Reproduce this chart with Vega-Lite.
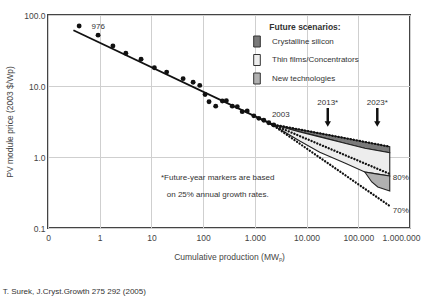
{
  "$schema": "https://vega.github.io/schema/vega-lite/v6.json",
  "width": 362,
  "height": 213,
  "autosize": "none",
  "padding": {"left": 48, "top": 15, "right": 11, "bottom": 68},
  "background": "white",
  "title": {
    "text": "T. Surek, J.Cryst.Growth 275 292 (2005)",
    "orient": "bottom",
    "anchor": "start",
    "offset": 27,
    "dx": -3,
    "fontSize": 8,
    "fontWeight": "normal",
    "color": "#333",
    "font": "Liberation Sans"
  },
  "config": {
    "font": "Liberation Sans",
    "view": {"stroke": "#444", "strokeWidth": 2},
    "axis": {
      "domain": false,
      "ticks": false,
      "gridColor": "#cfcfcf",
      "gridWidth": 1,
      "labelFont": "Liberation Sans",
      "labelFontSize": 8.5,
      "labelColor": "#444",
      "titleFont": "Liberation Sans",
      "titleFontSize": 8.5,
      "titleFontWeight": "normal",
      "titleColor": "#444"
    },
    "legend": {
      "labelFont": "Liberation Sans",
      "titleFont": "Liberation Sans"
    }
  },
  "datasets": {
    "pts": [
      {"x": 0.40, "y": 70}, {"x": 0.93, "y": 52}, {"x": 1.8, "y": 36.6}, {"x": 3.2, "y": 28.9},
      {"x": 6.3, "y": 23.8}, {"x": 11.4, "y": 18.1}, {"x": 19.7, "y": 15.7}, {"x": 41, "y": 12.7},
      {"x": 64, "y": 11.3}, {"x": 86, "y": 10.2}, {"x": 109, "y": 7.6}, {"x": 130, "y": 6.0},
      {"x": 175, "y": 5.2}, {"x": 235, "y": 6.15}, {"x": 281, "y": 6.2}, {"x": 366, "y": 5.2},
      {"x": 457, "y": 5.1}, {"x": 570, "y": 4.35}, {"x": 711, "y": 4.45}, {"x": 955, "y": 3.8},
      {"x": 1194, "y": 3.5}, {"x": 1490, "y": 3.3}, {"x": 1860, "y": 3.04}, {"x": 2317, "y": 2.83}
    ],
    "areas": [
      {"scenario": "Crystalline silicon", "x": 2100, "lo": 2.9, "hi": 2.9},
      {"scenario": "Crystalline silicon", "x": 7390, "lo": 2.26, "hi": 2.43},
      {"scenario": "Crystalline silicon", "x": 18000, "lo": 1.92, "hi": 2.15},
      {"scenario": "Crystalline silicon", "x": 54800, "lo": 1.56, "hi": 1.85},
      {"scenario": "Crystalline silicon", "x": 133600, "lo": 1.33, "hi": 1.63},
      {"scenario": "Crystalline silicon", "x": 406000, "lo": 1.15, "hi": 1.40},
      {"scenario": "Thin films/Concentrators", "x": 2100, "lo": 2.9, "hi": 2.9},
      {"scenario": "Thin films/Concentrators", "x": 7390, "lo": 1.68, "hi": 2.26},
      {"scenario": "Thin films/Concentrators", "x": 18000, "lo": 1.17, "hi": 1.92},
      {"scenario": "Thin films/Concentrators", "x": 54800, "lo": 0.82, "hi": 1.56},
      {"scenario": "Thin films/Concentrators", "x": 133600, "lo": 0.615, "hi": 1.33},
      {"scenario": "Thin films/Concentrators", "x": 406000, "lo": 0.54, "hi": 1.15},
      {"scenario": "New technologies", "x": 133600, "lo": 0.615, "hi": 0.615},
      {"scenario": "New technologies", "x": 182400, "lo": 0.445, "hi": 0.593},
      {"scenario": "New technologies", "x": 238500, "lo": 0.378, "hi": 0.574},
      {"scenario": "New technologies", "x": 406000, "lo": 0.332, "hi": 0.54}
    ],
    "proj": [
      {"ratio": "90%", "x": 2100, "y": 2.9}, {"ratio": "90%", "x": 406000, "y": 1.40},
      {"ratio": "80%", "x": 2100, "y": 2.9}, {"ratio": "80%", "x": 406000, "y": 0.577},
      {"ratio": "70%", "x": 2100, "y": 2.9}, {"ratio": "70%", "x": 406000, "y": 0.204}
    ],
    "fit": [{"x": 0.31, "y": 61}, {"x": 2100, "y": 2.9}],
    "arrows": [
      {"x": 25700, "y": 4.9, "y2": 3.11, "tip": 2.92},
      {"x": 233000, "y": 4.9, "y2": 3.11, "tip": 2.92}
    ],
    "ctext": [
      {"x": 0.935, "y": 67.8, "label": "976"},
      {"x": 3170, "y": 3.9, "label": "2003"},
      {"x": 25700, "y": 5.77, "label": "2013*"},
      {"x": 233000, "y": 5.77, "label": "2023*"},
      {"x": 191, "y": 0.506, "label": "*Future-year markers are based"},
      {"x": 191, "y": 0.29, "label": "on 25% annual growth rates."}
    ],
    "ltext": [
      {"x": 465000, "y": 0.514, "label": "80%"},
      {"x": 465000, "y": 0.173, "label": "70%"}
    ]
  },
  "layer": [
    {
      "data": {"name": "areas"},
      "mark": {"type": "area", "stroke": "#222", "strokeWidth": 1.1, "opacity": 1, "orient": "vertical"},
      "encoding": {
        "x": {
          "field": "x", "type": "quantitative",
          "scale": {"type": "log", "domain": [0.1, 1000000]},
          "axis": {
            "title": "Cumulative production (MWₚ)",
            "values": [0.1, 1, 10, 100, 1000, 10000, 100000, 1000000],
            "labelExpr": "datum.value < 0.5 ? '0' : datum.value < 500 ? format(datum.value, 'd') : datum.value < 5000 ? '1.000' : datum.value < 50000 ? '10.000' : datum.value < 500000 ? '100.000' : '1.000.000'",
            "labelOffset": {"condition": {"test": "datum.value > 500000", "value": -9}, "value": 0},
            "labelPadding": 5,
            "titlePadding": 11,
            "labelFlush": false,
            "labelOverlap": false
          }
        },
        "y": {
          "field": "lo", "type": "quantitative", "stack": null,
          "scale": {"type": "log", "domain": [0.1, 100]},
          "axis": {
            "title": "PV module price (2003 $/Wp)",
            "values": [0.1, 1, 10, 100],
            "format": ".1f",
            "labelPadding": 3,
            "titlePadding": 9,
            "labelFlush": false,
            "labelOverlap": false
          }
        },
        "y2": {"field": "hi"},
        "fill": {
          "field": "scenario", "type": "nominal",
          "scale": {
            "domain": ["Crystalline silicon", "Thin films/Concentrators", "New technologies"],
            "range": ["#7a7a7a", "#ededed", "#b0b0b0"]
          },
          "legend": {
            "title": "Future scenarios:",
            "orient": "none",
            "legendX": 203,
            "legendY": 8,
            "padding": 0,
            "titleAnchor": "middle",
            "titleFontSize": 8.5,
            "titleFontWeight": "bold",
            "titleColor": "#333",
            "titlePadding": 4,
            "labelFontSize": 8,
            "labelColor": "#333",
            "labelOffset": 9,
            "rowPadding": 2.5,
            "symbolType": "M-0.6,-1H0.6V1H-0.6Z",
            "symbolSize": 121,
            "symbolStrokeColor": "#333",
            "symbolStrokeWidth": 1
          }
        }
      }
    },
    {
      "data": {"name": "proj"},
      "mark": {"type": "line", "stroke": "#111", "strokeWidth": 2.3, "strokeDash": [0.1, 3], "strokeCap": "round"},
      "encoding": {
        "x": {"field": "x", "type": "quantitative", "scale": {"type": "log", "domain": [0.1, 1000000]}},
        "y": {"field": "y", "type": "quantitative", "scale": {"type": "log", "domain": [0.1, 100]}},
        "detail": {"field": "ratio", "type": "nominal"}
      }
    },
    {
      "data": {"name": "fit"},
      "mark": {"type": "line", "stroke": "#111", "strokeWidth": 1.8},
      "encoding": {
        "x": {"field": "x", "type": "quantitative", "scale": {"type": "log", "domain": [0.1, 1000000]}},
        "y": {"field": "y", "type": "quantitative", "scale": {"type": "log", "domain": [0.1, 100]}}
      }
    },
    {
      "data": {"name": "pts"},
      "mark": {"type": "circle", "color": "#111", "size": 24, "opacity": 1},
      "encoding": {
        "x": {"field": "x", "type": "quantitative", "scale": {"type": "log", "domain": [0.1, 1000000]}},
        "y": {"field": "y", "type": "quantitative", "scale": {"type": "log", "domain": [0.1, 100]}}
      }
    },
    {
      "data": {"name": "arrows"},
      "mark": {"type": "rule", "stroke": "#111", "strokeWidth": 2.5},
      "encoding": {
        "x": {"field": "x", "type": "quantitative", "scale": {"type": "log", "domain": [0.1, 1000000]}},
        "y": {"field": "y", "type": "quantitative", "scale": {"type": "log", "domain": [0.1, 100]}},
        "y2": {"field": "y2"}
      }
    },
    {
      "data": {"name": "arrows"},
      "mark": {"type": "point", "shape": "triangle-down", "filled": true, "color": "#111", "size": 40, "opacity": 1},
      "encoding": {
        "x": {"field": "x", "type": "quantitative", "scale": {"type": "log", "domain": [0.1, 1000000]}},
        "y": {"field": "tip", "type": "quantitative", "scale": {"type": "log", "domain": [0.1, 100]}}
      }
    },
    {
      "data": {"name": "ctext"},
      "mark": {"type": "text", "align": "center", "baseline": "middle", "fontSize": 8, "color": "#333", "font": "Liberation Sans"},
      "encoding": {
        "x": {"field": "x", "type": "quantitative", "scale": {"type": "log", "domain": [0.1, 1000000]}},
        "y": {"field": "y", "type": "quantitative", "scale": {"type": "log", "domain": [0.1, 100]}},
        "text": {"field": "label"}
      }
    },
    {
      "data": {"name": "ltext"},
      "mark": {"type": "text", "align": "left", "baseline": "middle", "fontSize": 8, "color": "#333", "font": "Liberation Sans"},
      "encoding": {
        "x": {"field": "x", "type": "quantitative", "scale": {"type": "log", "domain": [0.1, 1000000]}},
        "y": {"field": "y", "type": "quantitative", "scale": {"type": "log", "domain": [0.1, 100]}},
        "text": {"field": "label"}
      }
    }
  ]
}
